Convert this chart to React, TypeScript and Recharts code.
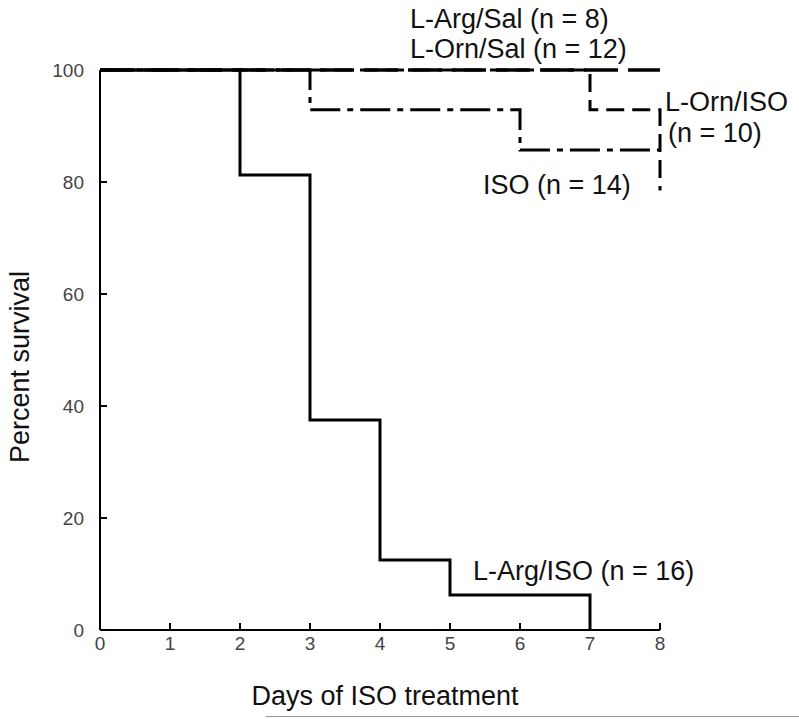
import React from "react";
import { LineChart, Line, XAxis, YAxis } from "recharts";

// Kaplan-Meier survival steps
const DAY_TICKS = [0, 1, 2, 3, 4, 5, 6, 7, 8];
const PCT_TICKS = [0, 20, 40, 60, 80, 100];

const argSal = [
  { x: 0, y: 100 },
  { x: 8, y: 100 },
];
const ornSal = [
  { x: 0, y: 100 },
  { x: 8, y: 100 },
];
const iso = [
  { x: 0, y: 100 },
  { x: 3, y: 92.9 },
  { x: 6, y: 85.7 },
  { x: 8, y: 85.7 },
];
const ornIso = [
  { x: 0, y: 100 },
  { x: 7, y: 92.9 },
  { x: 8, y: 78.5 },
];
const argIso = [
  { x: 0, y: 100 },
  { x: 2, y: 81.25 },
  { x: 3, y: 37.5 },
  { x: 4, y: 12.5 },
  { x: 5, y: 6.25 },
  { x: 7, y: 0 },
];

const FONT = "'Liberation Sans', Arial, sans-serif";

const note = (left: number, top: number): React.CSSProperties => ({
  position: "absolute",
  left,
  top,
  fontFamily: FONT,
  fontSize: 27,
  color: "#111",
  whiteSpace: "nowrap",
  lineHeight: "30px",
});

export default function App() {
  return (
    <div
      style={{
        position: "absolute",
        left: 0,
        top: 0,
        width: 799,
        height: 719,
        background: "#fff",
        overflow: "hidden",
      }}
    >
      <LineChart
        width={799}
        height={719}
        margin={{ top: 70, right: 139, bottom: 59, left: 40 }}
      >
        <XAxis
          dataKey="x"
          type="number"
          domain={[0, 8]}
          ticks={DAY_TICKS}
          stroke="#000"
          strokeWidth={2}
          tickSize={-7}
          tickMargin={14}
          height={30}
          tick={{ fontSize: 19, fill: "#444", fontFamily: FONT }}
          label={{
            value: "Days of ISO treatment",
            position: "insideBottom",
            offset: -45,
            dx: 5,
            style: { fontSize: 27, fill: "#111", fontFamily: FONT },
          }}
        />
        <YAxis
          dataKey="y"
          type="number"
          domain={[0, 100]}
          ticks={PCT_TICKS}
          width={60}
          stroke="#000"
          strokeWidth={2}
          tickSize={-7}
          tickMargin={23}
          tick={{ fontSize: 19, fill: "#444", fontFamily: FONT }}
        />
        <Line
          data={argSal}
          dataKey="y"
          type="stepAfter"
          stroke="#000"
          strokeWidth={3}
          strokeDasharray="34 10"
          dot={false}
          isAnimationActive={false}
        />
        <Line
          data={ornSal}
          dataKey="y"
          type="stepAfter"
          stroke="#000"
          strokeWidth={3}
          strokeDasharray="34 10"
          dot={false}
          isAnimationActive={false}
        />
        <Line
          data={iso}
          dataKey="y"
          type="stepAfter"
          stroke="#000"
          strokeWidth={3}
          strokeDasharray="30 7 6 7"
          dot={false}
          isAnimationActive={false}
        />
        <Line
          data={ornIso}
          dataKey="y"
          type="stepAfter"
          stroke="#000"
          strokeWidth={3}
          strokeDasharray="18 8"
          dot={false}
          isAnimationActive={false}
        />
        <Line
          data={argIso}
          dataKey="y"
          type="stepAfter"
          stroke="#000"
          strokeWidth={3}
          dot={false}
          isAnimationActive={false}
        />
      </LineChart>
      <div
        style={{
          ...note(-100, 352),
          width: 240,
          textAlign: "center",
          transform: "rotate(-90deg)",
        }}
      >
        Percent survival
      </div>
      <div style={note(410, 4)}>L-Arg/Sal (n = 8)</div>
      <div style={note(410, 34)}>L-Orn/Sal (n = 12)</div>
      <div style={note(665, 87)}>L-Orn/ISO</div>
      <div style={note(668, 118)}>(n = 10)</div>
      <div style={note(483, 170)}>ISO (n = 14)</div>
      <div style={note(473, 556)}>L-Arg/ISO (n = 16)</div>
      <div
        style={{
          position: "absolute",
          left: 266,
          top: 716,
          width: 533,
          height: 0,
          borderTop: "1px solid #999",
        }}
      />
    </div>
  );
}
